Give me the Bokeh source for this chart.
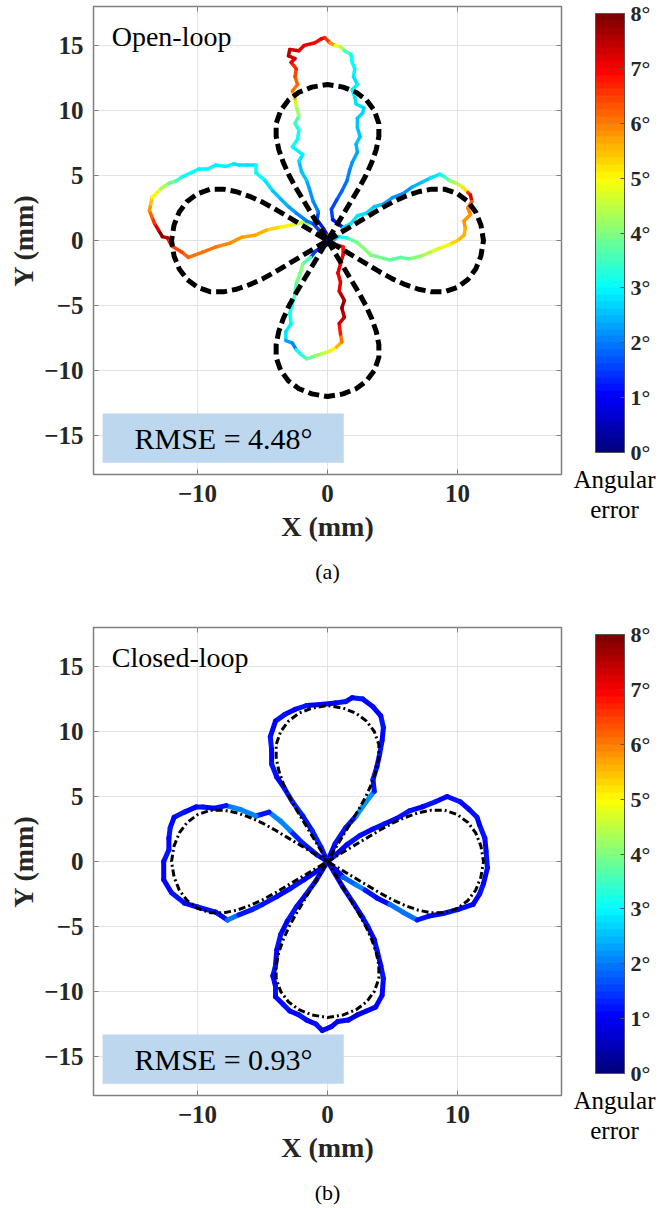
import numpy as np
from bokeh.plotting import figure
from bokeh.layouts import column, row
from bokeh.models import (ColumnDataSource, LinearColorMapper, ColorBar, FixedTicker,
                          Range1d, BoxAnnotation, Label, Title)
from bokeh.transform import linear_cmap
from bokeh.embed import file_html
from bokeh.resources import INLINE

# ---------------- data ----------------
# reference 4-petal trajectory (mm)
ref_x = [0, 1, 2, 3, 4, 5, 6, 7, 8, 9, 10, 10.8, 11.4, 11.8, 12,
         11.8, 11.4, 10.8, 10, 9, 8, 7, 6, 5, 4, 3, 2, 1, 0,
         0.6, 1.2, 1.8, 2.4, 2.95, 3.4, 3.75, 3.95, 3.95, 3.6, 3.0, 2.2, 1.2, 0,
         -1.2, -2.2, -3.0, -3.6, -3.95, -3.95, -3.75, -3.4, -2.95, -2.4, -1.8, -1.2, -0.6, 0,
         -1, -2, -3, -4, -5, -6, -7, -8, -9, -10, -10.8, -11.4, -11.8, -12,
         -11.8, -11.4, -10.8, -10, -9, -8, -7, -6, -5, -4, -3, -2, -1, 0,
         -0.6, -1.2, -1.8, -2.4, -2.95, -3.4, -3.75, -3.95, -3.95, -3.6, -3.0, -2.2, -1.2, 0,
         1.2, 2.2, 3.0, 3.6, 3.95, 3.95, 3.75, 3.4, 2.95, 2.4, 1.8, 1.2, 0.6, 0]
ref_y = [0, 0.6, 1.2, 1.8, 2.4, 2.95, 3.4, 3.75, 3.95, 3.95, 3.6, 3.0, 2.2, 1.2, 0,
         -1.2, -2.2, -3.0, -3.6, -3.95, -3.95, -3.75, -3.4, -2.95, -2.4, -1.8, -1.2, -0.6, 0,
         1, 2, 3, 4, 5, 6, 7, 8, 9, 10, 10.8, 11.4, 11.8, 12,
         11.8, 11.4, 10.8, 10, 9, 8, 7, 6, 5, 4, 3, 2, 1, 0,
         0.6, 1.2, 1.8, 2.4, 2.95, 3.4, 3.75, 3.95, 3.95, 3.6, 3.0, 2.2, 1.2, 0,
         -1.2, -2.2, -3.0, -3.6, -3.95, -3.95, -3.75, -3.4, -2.95, -2.4, -1.8, -1.2, -0.6, 0,
         -1, -2, -3, -4, -5, -6, -7, -8, -9, -10, -10.8, -11.4, -11.8, -12,
         -11.8, -11.4, -10.8, -10, -9, -8, -7, -6, -5, -4, -3, -2, -1, 0]

# open-loop measured path (mm) and angular error (deg)
open_x = [0.1, -0.3, -0.8, -0.7, -1.1, -1.4, -1.6, -2.0, -2.2, -1.9, -2.7, -2.3, -2.2, -2.5, -2.2, -2.4,
          -2.5, -2.7, -2.3, -2.5, -2.4, -2.8, -2.5, -3.0, -2.9, -2.2, -1.8, -1.0, -0.5, -0.2, 0.2, 0.6,
          1.0, 1.3, 1.8, 1.9, 2.1, 2.0, 2.3, 1.9, 2.1, 2.2, 2.8, 2.7, 2.3, 2.3, 2.5, 2.2, 2.3, 1.9,
          1.7, 1.5, 1.1, 0.7, 0.3, 0.4,
          1.2, 1.8, 2.3, 3.0, 3.6, 4.3, 5.0, 5.8, 6.5, 7.3, 7.9, 8.65, 9.0, 9.4, 9.9, 10.4, 10.8, 11.0,
          11.1, 10.8, 11.0, 10.5, 10.6, 10.5, 10.0, 9.4, 8.6, 7.9, 7.2, 6.3, 5.6, 4.8, 4.0, 3.3, 2.8,
          2.2, 1.5, 0.8,
          0.2, -0.4, -0.9, -1.3, -1.9, -2.1, -2.4, -2.5, -2.7, -2.9, -2.8, -3.2, -3.2, -2.7, -2.4, -2.0,
          -1.6, -1.0, -0.4, 0.2, 0.7, 1.1, 1.0, 0.9, 1.3, 1.1, 1.3, 0.9, 1.0, 0.8, 1.0, 1.2, 1.2, 0.6,
          0.2,
          -1.0, -1.9, -2.9, -3.8, -4.7, -5.6, -6.6, -7.5, -8.6, -9.6, -10.7, -11.2, -12.0, -12.3, -12.7,
          -13.0, -13.3, -13.5, -13.7, -13.6, -13.5, -13.2, -12.8, -12.2, -11.6, -11.2, -10.5, -9.9, -9.2,
          -8.6, -7.8, -7.2, -6.8, -6.2, -5.5, -5.5, -4.8, -4.2, -3.6, -3.0, -2.4, -1.6, -1.1, -0.5, 0.0]
open_y = [0.2, 0.9, 1.6, 2.2, 3.0, 4.0, 4.6, 5.3, 6.1, 6.6, 7.2, 7.8, 8.5, 9.0, 9.6, 10.3,
          10.9, 11.5, 12.0, 12.6, 13.2, 13.7, 14.0, 14.2, 14.7, 14.6, 15.0, 15.2, 15.5, 15.6, 15.2, 15.0,
          14.9, 14.6, 14.3, 13.7, 13.2, 12.6, 12.0, 11.6, 11.0, 10.5, 10.2, 9.8, 9.4, 8.7, 8.0, 7.4, 6.8, 6.0,
          5.4, 4.6, 3.8, 3.1, 2.4, 1.6,
          1.0, 1.3, 1.9, 2.1, 2.6, 2.8, 3.3, 3.6, 4.1, 4.5, 4.8, 5.1, 4.9, 4.6, 4.4, 4.1, 3.7, 3.5,
          3.0, 2.5, 2.0, 1.5, 0.9, 0.4, 0.0, -0.3, -0.6, -0.9, -1.2, -1.4, -1.3, -1.5, -1.3, -1.1, -0.6,
          -0.1, 0.2, 0.3,
          -0.2, -0.5, -0.8, -1.3, -1.8, -2.5, -3.3, -4.1, -4.9, -5.6, -6.4, -7.0, -7.7, -7.9, -8.4, -8.8,
          -9.1, -8.9, -8.7, -8.5, -8.2, -7.8, -7.2, -6.4, -5.9, -5.2, -4.6, -3.9, -3.2, -2.5, -1.8, -1.1, -0.5, -0.3,
          0.1,
          1.2, 1.4, 1.15, 1.0, 0.8, 0.4, 0.25, -0.2, -0.5, -0.9, -1.3, -0.9, -0.4, 0.2, 0.3,
          0.8, 1.3, 1.8, 2.3, 2.8, 3.3, 3.6, 4.0, 4.4, 4.6, 4.9, 5.2, 5.5, 5.5,
          5.8, 5.7, 5.9, 5.8, 5.8, 5.8, 5.2, 4.6, 3.8, 3.2, 2.6, 2.1, 1.5, 1.3, 0.6, 0.0]
open_err = [1.0, 1.2, 1.6, 2.0, 2.2, 2.3, 2.5, 2.6, 2.8, 2.9, 3.0, 3.1, 3.3, 3.6, 4.2, 4.6,
            5.5, 6.0, 6.2, 6.4, 6.7, 7.0, 7.3, 7.5, 7.3, 7.2, 7.0, 6.9, 7.0, 6.6, 5.8, 4.8,
            4.3, 3.6, 3.1, 3.0, 2.9, 2.8, 2.9, 2.9, 2.8, 2.8, 2.7, 2.7, 2.6, 2.6, 2.5, 2.4, 2.3, 2.2,
            2.0, 1.9, 1.8, 1.6, 1.5, 1.2,
            2.8, 2.8, 2.8, 2.7, 2.6, 2.3, 2.2, 2.2, 2.4, 2.6, 2.8, 3.0, 3.6, 4.2, 4.6, 5.2, 6.5, 7.2,
            6.2, 5.9, 5.8, 5.8, 5.6, 5.5, 5.3, 5.0, 4.7, 4.4, 4.0, 3.8, 3.7, 3.8, 3.9, 4.0, 4.0,
            3.8, 3.2, 2.5,
            1.0, 0.8, 1.5, 3.5, 4.0, 3.9, 3.7, 3.5, 3.2, 3.0, 2.9, 2.8, 2.3, 2.0, 3.0, 3.4,
            3.8, 4.2, 4.6, 5.0, 5.6, 6.0, 6.8, 7.3, 7.6, 7.8, 7.6, 7.2, 7.0, 7.2, 7.1, 6.9, 6.8, 6.2,
            5.5,
            4.2, 4.6, 5.0, 5.3, 5.5, 5.7, 5.8, 5.9, 6.0, 6.1, 6.2, 6.4, 6.8, 7.6, 7.8,
            7.2, 6.6, 6.2, 5.8, 5.4, 5.0, 4.8, 4.3, 3.8, 3.4, 3.1, 3.0, 2.9, 2.9,
            2.9, 2.9, 2.8, 2.8, 2.8, 3.1, 3.0, 2.8, 2.6, 2.4, 2.3, 2.1, 1.9, 1.5, 1.0, 0.5]

# closed-loop measured path (mm) and angular error (deg)
closed_x = [0, 0.6, 1.4, 2.2, 2.9, 3.6, 3.5, 3.8, 4.0, 4.2, 4.3, 4.1, 3.5, 2.7, 1.9, 1.4, 0.6, -0.3,
            -1.6, -2.5, -3.3, -4.0, -4.4, -4.3, -4.3, -3.9, -3.3, -2.7, -1.9, -1.2, -0.5, 0,
            -0.8, -1.9, -2.9, -3.6, -4.5, -5.5, -6.7, -7.8, -8.7, -9.6, -10.1, -11.0, -11.8, -12.1,
            -12.2, -12.2, -12.6, -12.6, -12.0, -11.0, -10.0, -8.6, -7.7, -6.8, -5.8, -5.0, -3.9, -2.9,
            -1.8, -0.6, 0,
            -0.9, -1.7, -2.4, -3.1, -3.6, -3.9, -4.0, -4.2, -4.0, -4.0, -3.4, -2.9, -2.2, -1.6, -0.9,
            -0.4, 0.3, 0.8, 1.6, 2.3, 3.0, 3.7, 4.2, 4.3, 4.1, 3.8, 3.6, 3.1, 2.7, 2.0, 1.2, 0.5, 0,
            1.2, 2.2, 2.9, 3.8, 4.8, 5.8, 6.9, 7.8, 8.9, 10.0, 11.2, 11.7, 12.0, 12.3, 12.2, 12.1,
            11.7, 11.5, 10.9, 10.2, 9.2, 8.3, 7.3, 6.3, 5.3, 4.4, 3.5, 2.5, 1.5, 0.5, 0]
closed_y = [0, 1.4, 2.6, 3.5, 4.5, 5.4, 6.3, 7.3, 8.2, 9.3, 10.3, 11.2, 11.9, 12.5, 12.6, 12.3, 12.2, 12.1,
            12.0, 11.7, 11.3, 10.8, 9.6, 8.6, 7.5, 6.5, 5.6, 4.6, 3.5, 2.4, 1.1, 0,
            0.5, 1.4, 2.4, 3.1, 3.8, 3.5, 4.0, 4.3, 4.1, 4.2, 4.2, 3.8, 3.4, 2.6,
            1.8, 0.9, 0.0, -1.4, -2.4, -3.2, -3.5, -3.9, -4.5, -4.1, -3.7, -3.3, -2.7, -2.1,
            -1.4, -0.6, 0,
            -1.5, -2.6, -3.5, -4.6, -5.6, -6.8, -8.0, -8.8, -9.6, -10.4, -11.0, -11.5, -11.8, -12.2, -12.5,
            -13.0, -12.7, -12.3, -12.2, -11.8, -11.5, -11.2, -10.3, -9.0, -8.0, -6.8, -6.0, -5.0, -4.3, -3.2,
            -2.0, -0.8, 0,
            -1.2, -1.8, -2.2, -2.8, -3.3, -3.9, -4.5, -4.2, -4.0, -3.7, -3.3, -2.5, -1.7, -0.5, 0.8, 1.8,
            2.8, 3.4, 4.0, 4.6, 5.0, 4.6, 4.2, 3.9, 3.3, 2.9, 2.5, 2.0, 1.3, 0.4, 0]
closed_err = [1.0, 1.2, 1.2, 2.2, 2.2, 1.2, 1.2, 1.1, 1.2, 1.1, 1.2, 1.1, 1.0, 1.2, 1.1, 1.2, 1.1, 1.0,
              1.2, 1.1, 1.2, 1.0, 1.2, 1.1, 1.2, 1.1, 1.2, 1.3, 1.2, 1.3, 1.2, 1.1,
              1.2, 1.3, 2.0, 2.0, 1.2, 2.0, 2.0, 1.2, 1.1, 1.2, 1.0, 1.2, 1.1, 1.2,
              1.1, 1.2, 1.0, 1.1, 1.2, 1.1, 1.2, 1.1, 1.9, 1.2, 1.3, 1.2, 1.1, 1.2,
              1.1, 1.0, 1.0,
              1.2, 1.1, 1.2, 1.1, 1.2, 1.1, 1.2, 1.0, 1.2, 1.1, 1.2, 1.1, 1.2, 1.1, 1.2,
              1.0, 1.1, 1.0, 0.9, 0.8, 0.9, 1.0, 1.1, 1.2, 1.1, 1.2, 1.1, 1.2, 1.1, 1.2, 1.1, 1.2, 1.1,
              1.8, 2.0, 1.2, 1.1, 1.9, 1.9, 1.2, 1.1, 1.2, 1.0, 1.1, 1.2, 1.1, 1.2, 1.1, 1.2,
              1.1, 1.2, 1.1, 1.2, 1.1, 1.2, 1.1, 1.2, 1.1, 1.2, 1.1, 1.2, 1.1, 1.2, 1.0]

x_ticks = [-10, 0, 10]
y_ticks = [-15, -10, -5, 0, 5, 10, 15]
cbar_ticks = [0, 1, 2, 3, 4, 5, 6, 7, 8]
panel_names = ["Open-loop", "Closed-loop"]
rmse_texts = ["RMSE = 4.48°", "RMSE = 0.93°"]
captions = ["(a)", "(b)"]
cbar_label = ["Angular", "error"]
AXIS_LIM = 18


def jet(n=64):
    cols = []
    for i in range(n):
        v = i / (n - 1)
        r = min(max(1.5 - abs(4 * v - 3), 0), 1)
        g = min(max(1.5 - abs(4 * v - 2), 0), 1)
        b = min(max(1.5 - abs(4 * v - 1), 0), 1)
        cols.append("#%02x%02x%02x" % (round(r * 255), round(g * 255), round(b * 255)))
    return cols


JET = jet(64)
FONT = "Liberation Serif"
AX = "#7f7f7f"
TXT = "#262626"


def make_panel(name, rmse, caption, xs, ys, errs, ref_w, ref_dash, traj_w, total_h):
    p = figure(frame_width=468, frame_height=468, output_backend="svg", toolbar_location=None,
               x_range=Range1d(-AXIS_LIM, AXIS_LIM), y_range=Range1d(-AXIS_LIM, AXIS_LIM),
               min_border_left=93, min_border_right=12, min_border_top=6,
               min_border_bottom=total_h - 474, background_fill_color="white",
               border_fill_color="white", outline_line_color=AX, outline_line_width=1.5,
               frame_align=False)
    p.xaxis.ticker = FixedTicker(ticks=x_ticks)
    p.yaxis.ticker = FixedTicker(ticks=y_ticks)
    for ax in (p.xaxis[0], p.yaxis[0]):
        ax.axis_line_color = None
        ax.major_tick_in = 5
        ax.major_tick_out = 0
        ax.minor_tick_line_color = None
        ax.major_tick_line_color = AX
        ax.major_label_text_font = FONT
        ax.major_label_text_font_style = "bold"
        ax.major_label_text_font_size = "25px"
        ax.major_label_text_color = TXT
        ax.axis_label_text_font = FONT
        ax.axis_label_text_font_style = "bold"
        ax.axis_label_text_font_size = "28px"
        ax.axis_label_text_color = TXT
    p.xaxis.axis_label = "X (mm)"
    p.yaxis.axis_label = "Y (mm)"
    p.xaxis.major_label_standoff = 10
    p.yaxis.major_label_standoff = 10
    p.xaxis.axis_label_standoff = 6
    p.yaxis.axis_label_standoff = 2
    p.grid.grid_line_color = "#e3e3e3"
    p.grid.grid_line_width = 1

    # box-style inward tick marks on the top and right edges (at the tick values)
    tick_len = 0.38
    p.segment(x0=x_ticks, y0=[AXIS_LIM] * len(x_ticks), x1=x_ticks,
              y1=[AXIS_LIM - tick_len] * len(x_ticks), line_color=AX, line_width=1)
    p.segment(x0=[AXIS_LIM] * len(y_ticks), y0=y_ticks, x1=[AXIS_LIM - tick_len] * len(y_ticks),
              y1=y_ticks, line_color=AX, line_width=1)

    src = ColumnDataSource(dict(x0=xs[:-1], y0=ys[:-1], x1=xs[1:], y1=ys[1:], err=errs[:-1]))
    p.segment("x0", "y0", "x1", "y1", source=src, line_width=traj_w, line_cap="round",
              line_color=linear_cmap("err", JET, 0, 8))
    p.line(ref_x, ref_y, line_color="black", line_width=ref_w, line_dash=ref_dash)

    p.add_layout(BoxAnnotation(left=-17.3, right=1.25, top=-13.3, bottom=-17.1,
                               fill_color="#bdd7ee", fill_alpha=1, line_color=None))
    p.add_layout(Label(x=-8.0, y=-15.2, text=rmse, text_font=FONT, text_font_size="30px",
                       text_color="black", text_align="center", text_baseline="middle"))
    p.add_layout(Label(x=-16.6, y=15.7, text=name, text_font=FONT, text_font_size="28px",
                       text_color="black", text_align="left", text_baseline="middle"))

    p.add_layout(Title(text=caption, align="center", text_font=FONT, text_font_size="22px",
                       text_font_style="normal", text_color="black", standoff=24), "below")

    # colour bar figure (to the right)
    c = figure(width=98, height=total_h, output_backend="svg", toolbar_location=None,
               x_range=Range1d(0, 98), y_range=Range1d(total_h, 0),
               x_axis_location=None, y_axis_location=None,
               min_border=0, outline_line_color=None, background_fill_color="white",
               border_fill_color="white", frame_align=False)
    c.grid.visible = False
    mapper = LinearColorMapper(palette=JET, low=0, high=8)
    cb = ColorBar(color_mapper=mapper, ticker=FixedTicker(ticks=cbar_ticks),
                  major_label_overrides={t: f"{t}°" for t in cbar_ticks},
                  width=29, height=439, location=(22, total_h - 452), margin=0, padding=0,
                  major_label_text_font=FONT, major_label_text_font_style="bold",
                  major_label_text_font_size="22px", major_label_text_color=TXT,
                  major_tick_in=4, major_tick_out=0, major_tick_line_color="#555555",
                  bar_line_color="#555555", label_standoff=6,
                  background_fill_alpha=0, border_line_color=None)
    c.add_layout(cb)
    c.add_layout(Label(x=41, y=479, text=cbar_label[0], text_font=FONT, text_font_size="25px",
                       text_color="black", text_align="center", text_baseline="middle"))
    c.add_layout(Label(x=41, y=509, text=cbar_label[1], text_font=FONT, text_font_size="25px",
                       text_color="black", text_align="center", text_baseline="middle"))
    return row(p, c, spacing=0)


r1 = make_panel(panel_names[0], rmse_texts[0], captions[0], open_x, open_y, open_err,
                5, "11 5", 3.5, 621)
r2 = make_panel(panel_names[1], rmse_texts[1], captions[1], closed_x, closed_y, closed_err,
                3, "7 3 2 3", 5, 587)
page = column(r1, r2, spacing=0)

open("out.html", "w").write(file_html(page, INLINE))
